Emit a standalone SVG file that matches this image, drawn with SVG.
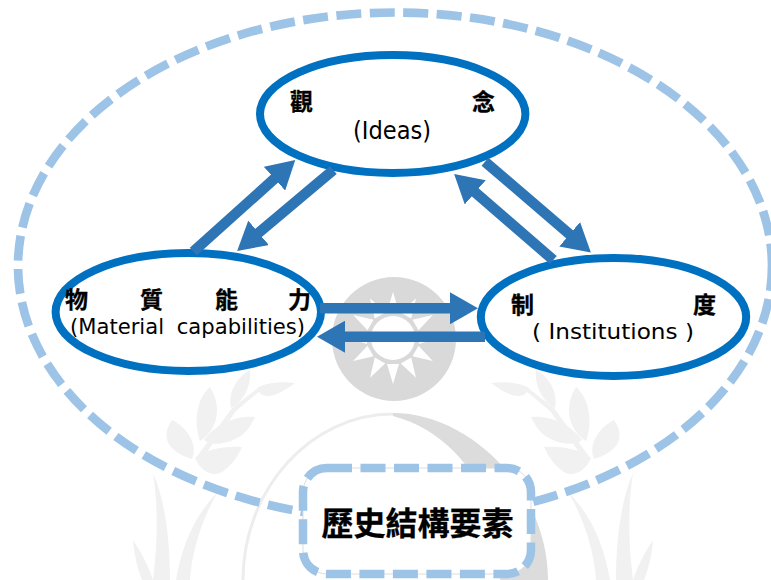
<svg xmlns="http://www.w3.org/2000/svg" xmlns:xlink="http://www.w3.org/1999/xlink" width="771" height="580" viewBox="0 0 771 580">
  <style>
    .cjk { font-family: "Noto Sans CJK TC", "Noto Sans CJK JP", sans-serif; font-weight: 700; fill: #000; stroke: #000; stroke-width: 0.3; text-anchor: middle; }
    .lat { font-family: "DejaVu Sans", "Liberation Sans", sans-serif; fill: #000; }
    .node { fill: #fff; stroke: #0070C0; stroke-width: 8; }
    .arrow { stroke: #2E75B6; stroke-width: 10.5; fill: none; marker-end: url(#head); }
    .leaf { fill: #F1F1F1; }
    .ray { fill: #fff; }
  </style>
  <defs>
    <marker id="head" markerUnits="userSpaceOnUse" viewBox="0 0 28 32" markerWidth="28" markerHeight="32" refX="1" refY="16" orient="auto">
      <path d="M0 0L28 16L0 32Z" fill="#2E75B6"/>
    </marker>
    <g id="wreath" class="leaf">
      <path d="M172 420C160 437 168 452 192 459C198 445 188 428 172 420Z"/>
      <path d="M242 447C222 446 204 450 195 458C200 470 212 478 222 472C232 465 238 456 242 447Z"/>
      <path d="M210 387C195 400 194 425 200 441C215 432 224 410 210 387Z"/>
      <path d="M255 417C235 415 215 425 204 440C215 448 232 442 242 435C248 430 252 423 255 417Z"/>
      <path d="M250 370C235 378 228 395 231 408C243 402 252 385 250 370Z"/>
      <path d="M295 383C280 381 265 383 257 388C262 402 278 396 295 383Z"/>
      <path d="M196 458L232 408L258 388L260 391L236 411L200 462Z"/>
      <path d="M153 473C165 500 170 540 170 580L153 580C158 540 158 505 153 473Z"/>
      <path d="M217 493C195 515 182 545 176 580L190 580C192 550 202 520 217 493Z"/>
      <path d="M133 540C134 555 138 570 142 580L153 580C148 565 141 552 133 540Z"/>
    </g>
  </defs>

  <g id="watermark">
    <circle cx="394" cy="339" r="62" fill="#D9D9D9"/>
    <circle cx="393" cy="338" r="22" fill="#fff"/>
    <g id="sun" class="ray">
      <path id="ray" d="M387 364L399 364L393 384Z"/>
      <use xlink:href="#ray" href="#ray" transform="rotate(30 393 338)"/>
      <use xlink:href="#ray" href="#ray" transform="rotate(60 393 338)"/>
      <use xlink:href="#ray" href="#ray" transform="rotate(90 393 338)"/>
      <use xlink:href="#ray" href="#ray" transform="rotate(120 393 338)"/>
      <use xlink:href="#ray" href="#ray" transform="rotate(150 393 338)"/>
      <use xlink:href="#ray" href="#ray" transform="rotate(180 393 338)"/>
      <use xlink:href="#ray" href="#ray" transform="rotate(210 393 338)"/>
      <use xlink:href="#ray" href="#ray" transform="rotate(240 393 338)"/>
      <use xlink:href="#ray" href="#ray" transform="rotate(270 393 338)"/>
      <use xlink:href="#ray" href="#ray" transform="rotate(300 393 338)"/>
      <use xlink:href="#ray" href="#ray" transform="rotate(330 393 338)"/>
    </g>
    <use xlink:href="#wreath" href="#wreath"/>
    <use xlink:href="#wreath" href="#wreath" transform="translate(786 0) scale(-1 1)"/>
    <path d="M393 414C310 414 243 490 243 580" fill="none" stroke="#EDEDED" stroke-width="3"/>
    <path d="M393 413C470 413 548 490 548 580L500 580C505 510 465 435 393 416Z" fill="#DCDCDC"/>
  </g>

  <g id="outer">
    <ellipse cx="395" cy="266" rx="377" ry="253.5" fill="none" stroke="#9DC3E6" stroke-width="8.7" stroke-dasharray="25 8.5"/>
  </g>

  <g id="node-ideas">
    <ellipse class="node" cx="392.7" cy="114" rx="132.7" ry="59"/>
    <text class="cjk" font-size="23" x="301.5" y="110">觀</text>
    <text class="cjk" font-size="23" x="483.5" y="110">念</text>
    <text class="lat" font-size="24" x="353" y="139" textLength="78" lengthAdjust="spacingAndGlyphs">(Ideas)</text>
  </g>
  <g id="node-material">
    <ellipse class="node" cx="188.3" cy="312" rx="132.7" ry="59"/>
    <text class="cjk" font-size="23" x="76.5" y="308">物</text>
    <text class="cjk" font-size="23" x="151.5" y="308">質</text>
    <text class="cjk" font-size="23" x="226.5" y="308">能</text>
    <text class="cjk" font-size="23" x="299.5" y="308">力</text>
    <text class="lat" font-size="21" word-spacing="6" x="70" y="334" textLength="235" lengthAdjust="spacingAndGlyphs">(Material capabilities)</text>
  </g>
  <g id="node-institutions">
    <ellipse class="node" cx="613.5" cy="317" rx="132.7" ry="59"/>
    <text class="cjk" font-size="23" x="522.5" y="313">制</text>
    <text class="cjk" font-size="23" x="704.5" y="313">度</text>
    <text class="lat" font-size="21" x="532" y="339" textLength="162" lengthAdjust="spacingAndGlyphs" xml:space="preserve">( Institutions )</text>
  </g>

  <g id="connectors">
    <line class="arrow" x1="193.3" y1="251.7" x2="275.2" y2="178"/>
    <line class="arrow" x1="333.3" y1="170" x2="257.8" y2="233.5"/>
    <line class="arrow" x1="485" y1="161.7" x2="570.4" y2="234.9"/>
    <line class="arrow" x1="553.3" y1="260" x2="474.5" y2="191.7"/>
    <line class="arrow" x1="320" y1="308.3" x2="451" y2="308.3"/>
    <line class="arrow" x1="485" y1="336.7" x2="344" y2="336.7"/>
  </g>

  <g id="node-label">
    <rect x="303" y="468" width="228" height="106" rx="24" fill="#fff" stroke="#DDDDDD" stroke-width="1"/>
    <rect x="303" y="468" width="228" height="106" rx="24" fill="none" stroke="#9DC3E6" stroke-width="8.5" stroke-dasharray="25 8.5"/>
    <text class="cjk" font-size="32" x="417.5" y="535">歷史結構要素</text>
  </g>
</svg>
